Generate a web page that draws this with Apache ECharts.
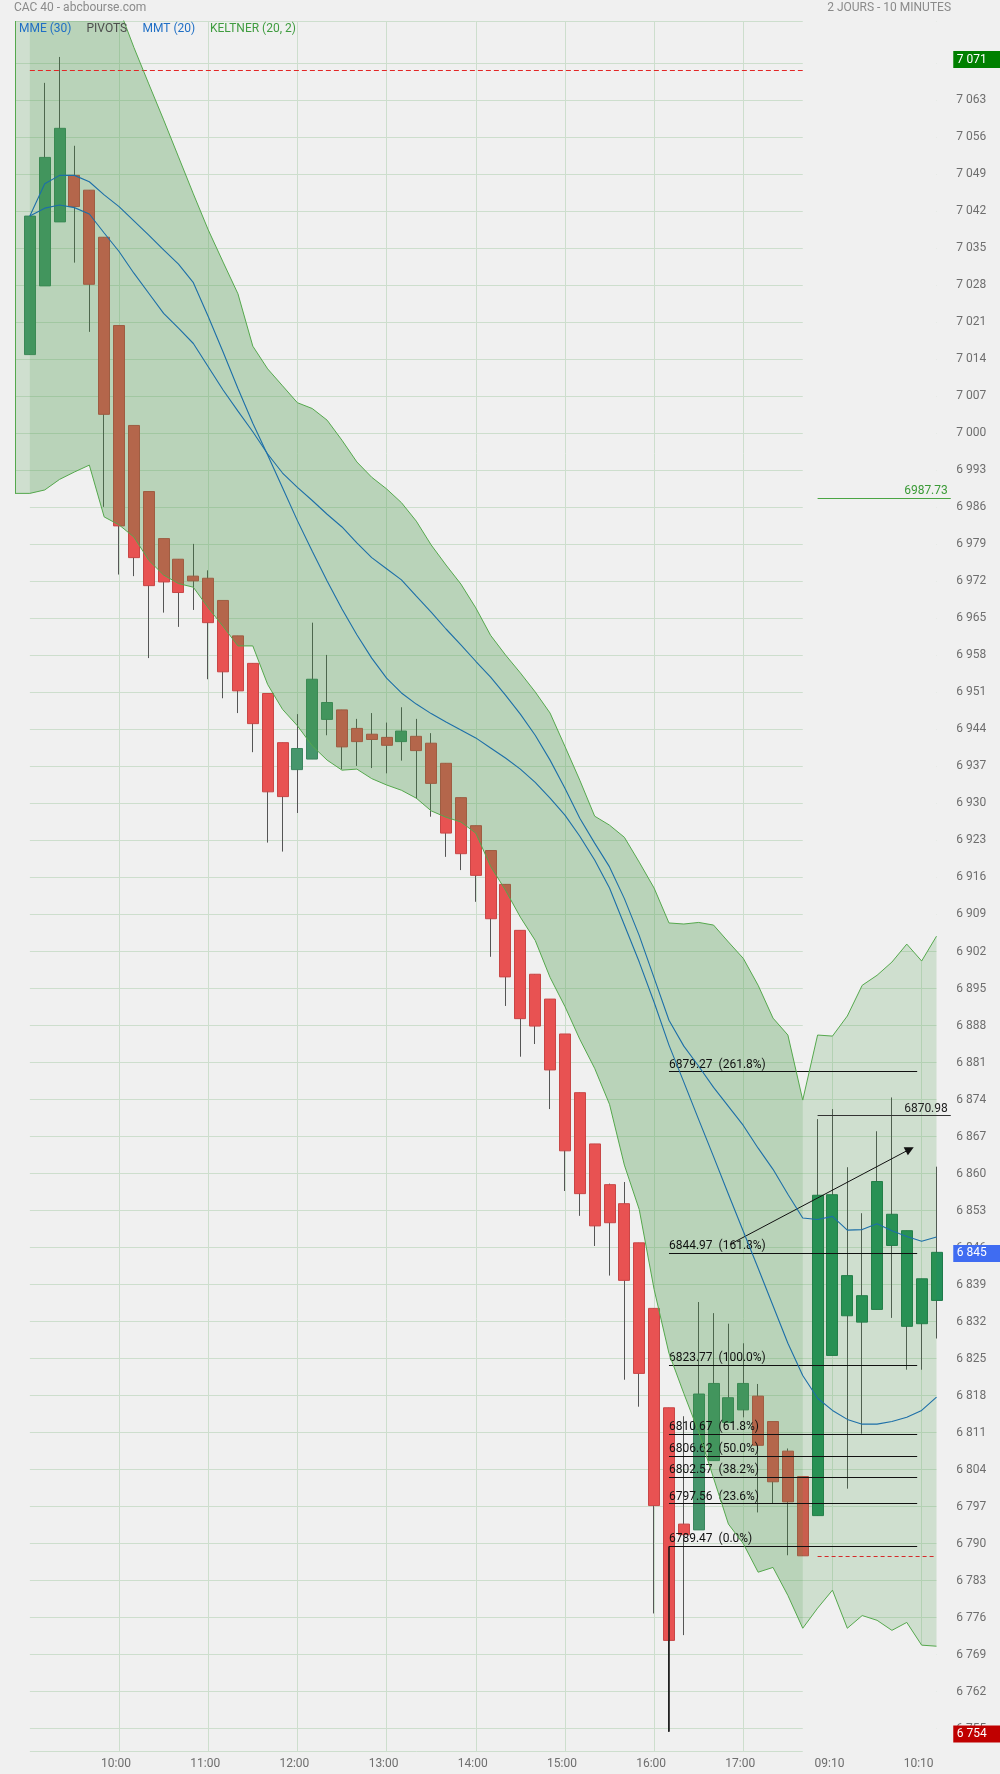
<!DOCTYPE html>
<html><head><meta charset="utf-8">
<script src="https://cdn.jsdelivr.net/npm/echarts@6/dist/echarts.min.js"></script>
<style>html,body{margin:0;padding:0;background:#f0f0f0;}#c{width:1000px;height:1774px;}</style>
</head><body><div id="c"></div>
<script>
// ---------------- DATA ----------------
const TIMES = ['08:50',
 '09:00','09:10','09:20','09:30','09:40','09:50',
 '10:00','10:10','10:20','10:30','10:40','10:50',
 '11:00','11:10','11:20','11:30','11:40','11:50',
 '12:00','12:10','12:20','12:30','12:40','12:50',
 '13:00','13:10','13:20','13:30','13:40','13:50',
 '14:00','14:10','14:20','14:30','14:40','14:50',
 '15:00','15:10','15:20','15:30','15:40','15:50',
 '16:00','16:10','16:20','16:30','16:40','16:50',
 '17:00','17:10','17:20','17:30','17:40',
 '09:00','09:10','09:20','09:30','09:40','09:50','10:00','10:10','10:20',''];
const X_LABEL_IDX = [7,13,19,25,31,37,43,49,55,61];
const DAY1 = [1, 53];
const DAY2 = [54, 62];

const OPEN = [null,7014.9,7027.9,7040.0,7048.8,7046.0,7037.1,7020.4,7001.5,6989.0,6980.1,
 6976.2,6973.0,6972.6,6968.4,6961.7,6956.5,6950.8,6941.5,6936.4,6938.4,
 6945.9,6947.7,6944.2,6943.1,6942.5,6941.7,6942.7,6941.4,6937.6,6931.1,
 6925.8,6921.1,6914.7,6906.0,6897.7,6893.0,6886.4,6875.3,6865.6,6857.9,
 6854.3,6846.9,6834.5,6815.7,6793.7,6792.6,6805.7,6812.9,6815.3,6817.9,
 6813.1,6807.5,6802.7,
 6795.3,6825.6,6840.7,6836.9,6834.3,6846.4,6849.2,6840.1,6836.0];
const CLOSE = [null,7041.1,7052.2,7057.7,7042.9,7028.2,7003.6,6982.5,6976.5,6971.2,6971.9,
 6969.9,6972.1,6964.2,6954.9,6951.3,6945.1,6932.2,6931.3,6940.4,6953.5,
 6949.1,6940.7,6941.7,6942.1,6941.0,6943.7,6940.0,6933.8,6924.4,6920.5,
 6916.4,6908.2,6897.2,6889.3,6887.9,6879.6,6864.3,6856.2,6850.1,6850.7,
 6839.8,6822.2,6797.2,6771.7,6791.7,6818.3,6820.3,6817.6,6820.3,6808.6,
 6801.7,6797.9,6787.7,
 6855.9,6856.0,6833.1,6831.9,6858.5,6852.3,6831.1,6831.6,6845.1];
const LOW = [null,7014.9,7027.9,7040.0,7032.3,7019.2,6986.1,6973.3,6973.0,6957.5,6966.1,
 6963.4,6966.6,6953.5,6949.9,6947.1,6939.7,6922.6,6920.9,6928.2,6938.4,
 6942.9,6936.5,6937.1,6936.7,6935.7,6938.1,6930.9,6927.5,6919.9,6917.4,
 6911.4,6901.0,6891.7,6882.1,6884.5,6872.2,6856.7,6852.0,6846.3,6840.7,
 6821.0,6815.9,6776.8,6754.4,6772.7,6792.6,6805.7,6812.9,6813.9,6795.9,
 6797.6,6787.8,6787.7,
 6795.3,6825.6,6800.4,6810.8,6834.3,6832.7,6822.9,6822.9,6828.8];
const HIGH = [null,7041.1,7066.3,7071.2,7054.4,7046.0,7037.1,7020.4,7001.5,6989.0,6980.1,
 6976.2,6979.1,6974.1,6968.4,6961.7,6956.5,6950.8,6941.5,6946.9,6964.2,
 6958.1,6947.7,6946.0,6947.1,6945.3,6948.2,6946.0,6943.3,6937.6,6931.1,
 6925.8,6921.1,6914.7,6906.0,6897.7,6893.0,6886.4,6875.3,6865.6,6858.1,
 6858.4,6846.9,6834.5,6815.7,6814.1,6835.7,6833.6,6831.6,6827.9,6820.2,
 6813.1,6808.0,6802.7,
 6870.3,6872.2,6861.2,6852.5,6868.0,6874.4,6849.2,6840.1,6861.3];

const MMT20 = [null,7041.1,7047.2,7048.8,7048.8,7047.6,7045.1,7042.9,7040.2,7037.5,7034.7,
 7032.0,7028.5,7022.1,7015.4,7008.5,7001.9,6995.9,6989.7,6983.5,6977.7,
 6972.1,6966.8,6961.9,6957.5,6953.7,6950.9,6948.8,6947.0,6945.4,6943.9,
 6942.4,6940.5,6938.6,6936.5,6934.0,6931.0,6927.8,6923.8,6919.3,6914.0,
 6907.0,6900.0,6892.4,6884.3,6877.3,6870.2,6863.2,6856.1,6849.1,6842.1,
 6835.0,6827.9,6821.8,
 6817.5,6815.2,6813.5,6812.6,6812.6,6813.1,6813.9,6815.2,6817.7];
const MME30 = [null,7041.1,7042.6,7043.2,7042.7,7041.5,7037.9,7034.4,7030.3,7026.5,7022.7,
 7019.9,7017.0,7012.6,7008.2,7004.2,7000.3,6996.1,6992.5,6989.8,6987.3,
 6984.7,6982.3,6979.3,6976.5,6974.4,6972.3,6969.2,6966.2,6963.0,6960.0,
 6956.9,6953.9,6950.5,6946.9,6942.9,6938.2,6932.9,6927.2,6922.5,6918.0,
 6912.0,6905.0,6897.0,6889.0,6884.1,6880.3,6876.3,6872.7,6869.1,6864.8,
 6860.8,6856.1,6851.6,
 6851.3,6851.9,6849.3,6849.4,6850.5,6849.2,6848.1,6847.2,6848.0];

const K_UPPER = [7112,7112,7110,7106,7100,7094,7087,7080.4,7073.0,7066.1,7059.3,
 7052.3,7045.3,7038.5,7032.4,7026.4,7016.5,7012.2,7009.0,7005.8,7004.7,
 7002.5,6998.7,6994.6,6991.7,6989.5,6986.9,6983.4,6978.9,6975.1,6971.5,
 6967.0,6961.8,6958.1,6954.7,6951.1,6947.1,6940.8,6934.4,6927.6,6925.9,
 6923.6,6918.9,6914.0,6907.4,6907.2,6907.5,6907.0,6903.8,6900.7,6895.6,
 6889.4,6886.2,6873.9,
 6886.2,6886.0,6889.8,6895.6,6897.5,6900.0,6903.4,6900.2,6904.9];
const K_LOWER = [6988.65,6988.65,6989.3,6991.3,6992.7,6994.0,6984.2,6982.7,6980.4,6976.0,6973.2,
 6971.6,6970.9,6967.0,6963.5,6959.8,6959.8,6952.5,6947.8,6944.7,6940.9,
 6938.2,6936.3,6936.5,6934.7,6933.5,6932.5,6931.0,6928.6,6927.4,6926.5,
 6924.4,6918.1,6913.6,6908.5,6904.1,6897.1,6891.6,6885.4,6879.9,6873.1,
 6861.6,6853.2,6838.1,6826.0,6818.4,6811.1,6802.4,6793.7,6790.0,6784.6,
 6785.5,6780.2,6774.0,
 6777.8,6781.2,6774.0,6776.4,6775.5,6773.6,6775.1,6770.8,6770.6];

const Y_MIN = 6750.78, Y_MAX = 7078.0;
const Y_TICKS = [6755,6762,6769,6776,6783,6790,6797,6804,6811,6818,6825,6832,6839,6846,6853,
 6860,6867,6874,6881,6888,6895,6902,6909,6916,6923,6930,6937,6944,6951,6958,6965,6972,
 6979,6986,6993,7000,7007,7014,7021,7028,7035,7042,7049,7056,7063,7070];

const PREV_CLOSE = 7068.7;
const DAY1_CLOSE = 6787.65;
const FIB_VALUES = [6879.27,6844.97,6823.77,6810.67,6806.62,6802.57,6797.56,6789.47];
const FIB_PCTS = ['261.8%','161.8%','100.0%','61.8%','50.0%','38.2%','23.6%','0.0%'];
const FIB_X = [44, 60.7];
const FIB_ANCHOR = [44, 6789.47, 6754.4];
const RESIST = 6870.98, PIVOT = 6987.73;
const LEVEL_X = [54, 62.96];
const ARROW = [[48.1, 6846.6], [60.2, 6864.6]];
const TAG_VALUES = [7070.7, 6844.9, 6754.0];
const TAG_TEXT = ['7 071', '6 845', '6 754'];
const TAG_COLORS = ['#008000', '#3f6cf2', '#c00000'];

// ---------------- STYLE ----------------
const BG = '#f0f0f0';
const GRID_C = '#cddecd';
const S = 14.863;
const FONT = 'Roboto';

const fmtY = v => { const s = String(Math.round(v)); return s.slice(0, s.length - 3) + ' ' + s.slice(-3); };
const idx = (a, from, to) => { const r = []; for (let i = from; i <= to; i++) r.push([i, a[i]]); return r; };

const isDay2 = i => i >= DAY2[0];
const UP1 = '#46966c', UP1B = '#3b855e', DN1 = '#e85252', DN1B = '#c84646';
const UP2 = '#24905a', UP2B = '#1e7a4b', DN2 = '#ea3a30', DN2B = '#c53028';

const wickData = [], bodyData = [];
for (let i = DAY1[0]; i <= DAY2[1]; i++) {
  wickData.push([i, OPEN[i], CLOSE[i], LOW[i], HIGH[i]]);
  const item = { value: [i, OPEN[i], CLOSE[i], Math.min(OPEN[i], CLOSE[i]), Math.max(OPEN[i], CLOSE[i])] };
  if (isDay2(i)) item.itemStyle = { color: UP2, color0: DN2, borderColor: UP2B, borderColor0: DN2B };
  bodyData.push(item);
}

// polygons drawn through the axis scales (api.coord)
function bandPolygon(api, from, to) {
  const pts = [];
  for (let i = from; i <= to; i++) pts.push(api.coord([i, K_UPPER[i]]));
  for (let i = to; i >= from; i--) pts.push(api.coord([i, K_LOWER[i]]));
  return pts;
}
function edgePolygon(api, arr, from, to, edge) {
  const pts = [api.coord([from, edge])];
  for (let i = from; i <= to; i++) pts.push(api.coord([i, arr[i]]));
  pts.push(api.coord([to, edge]));
  return pts;
}

const chart = echarts.init(document.getElementById('c'), null, { renderer: 'canvas' });

const annLines = [];
annLines.push([{ coord: [DAY1[0], Y_MIN], lineStyle: { color: GRID_C, width: 1, type: 'solid' } }, { coord: [DAY1[1], Y_MIN] }]);
annLines.push([{ coord: [DAY1[0], PREV_CLOSE], lineStyle: { color: '#e32626', width: 1, type: [5, 3] } }, { coord: [DAY1[1], PREV_CLOSE] }]);
annLines.push([{ coord: [DAY2[0], DAY1_CLOSE], lineStyle: { color: '#d42a2a', width: 1, type: [4, 3] } }, { coord: [DAY2[1], DAY1_CLOSE] }]);
FIB_VALUES.forEach((v, k) => {
  annLines.push([{ coord: [FIB_X[0], v], lineStyle: { color: '#111', width: 1, type: 'solid' },
    label: { show: true, position: 'insideStartTop', distance: [0, 1], formatter: v.toFixed(2) + '  (' + FIB_PCTS[k] + ')',
      color: '#111', fontSize: 12, fontFamily: FONT } },
    { coord: [FIB_X[1], v] }]);
});
annLines.push([{ coord: [FIB_ANCHOR[0], FIB_ANCHOR[1]], lineStyle: { color: '#111', width: 1.5, type: 'solid' } }, { coord: [FIB_ANCHOR[0], FIB_ANCHOR[2]] }]);
annLines.push([{ coord: [LEVEL_X[0], RESIST], lineStyle: { color: '#333', width: 1, type: 'solid' },
  label: { show: true, position: 'insideEndTop', distance: [3, 1], formatter: RESIST.toFixed(2), color: '#222', fontSize: 12, fontFamily: FONT } },
  { coord: [LEVEL_X[1], RESIST] }]);
annLines.push([{ coord: [LEVEL_X[0], PIVOT], lineStyle: { color: '#4aa544', width: 1, type: 'solid' },
  label: { show: true, position: 'insideEndTop', distance: [3, 1], formatter: PIVOT.toFixed(2), color: '#3a9a36', fontSize: 12, fontFamily: FONT } },
  { coord: [LEVEL_X[1], PIVOT] }]);
annLines.push([{ coord: ARROW[0], lineStyle: { color: '#111', width: 1, type: 'solid' } },
  { coord: ARROW[1], symbol: 'triangle', symbolSize: [9, 9] }]);

const tags = TAG_VALUES.map((v, k) => ({
  coord: [63, v], symbol: 'rect', symbolSize: [47, 17], symbolOffset: [25.4, 0],
  itemStyle: { color: TAG_COLORS[k] },
  label: { show: true, position: 'insideLeft', distance: 3.5, formatter: TAG_TEXT[k], color: '#fff', fontSize: 12, fontFamily: FONT }
}));

chart.setOption({
  animation: false,
  backgroundColor: BG,
  textStyle: { fontFamily: FONT },
  grid: [
    { left: 15, top: 21, width: 63 * S, height: 1730 },
    { left: 15, top: 21, width: 62 * S, height: 1730 }
  ],
  xAxis: [
    { gridIndex: 0, type: 'value', min: 0, max: 63, axisLine: { show: false }, axisTick: { show: false }, splitLine: { show: false },
      axisLabel: { customValues: X_LABEL_IDX, formatter: v => TIMES[v], color: '#6e6e6e', fontSize: 12, fontFamily: FONT, margin: 7, padding: [0, 6, 0, 0] } },
    { gridIndex: 1, type: 'value', min: 0, max: 62, axisLine: { show: false }, axisTick: { show: false, customValues: X_LABEL_IDX },
      axisLabel: { show: false }, splitLine: { show: true, lineStyle: { color: GRID_C, width: 1 } } }
  ],
  yAxis: [
    { gridIndex: 0, type: 'value', min: Y_MIN, max: Y_MAX, position: 'right', axisLine: { show: false }, axisTick: { show: false },
      splitLine: { show: false },
      axisLabel: { customValues: Y_TICKS, formatter: fmtY, color: '#6e6e6e', fontSize: 12, fontFamily: FONT, margin: 5, padding: [0, 0, 5, 0] } },
    { gridIndex: 1, type: 'value', min: Y_MIN, max: Y_MAX, axisLine: { show: false }, axisTick: { show: false, customValues: Y_TICKS.concat([Y_MAX]) },
      axisLabel: { show: false }, splitLine: { show: true, lineStyle: { color: GRID_C, width: 1 } } }
  ],
  graphic: [
    { type: 'text', left: 14, top: 2, z: 100, style: { text: 'CAC 40 - abcbourse.com', fill: '#8a8a8a', font: '12px Roboto' } },
    { type: 'text', right: 49, top: 2, z: 100, style: { text: '2 JOURS - 10 MINUTES', fill: '#8a8a8a', font: '12px Roboto' } },
    { type: 'text', left: 19, top: 23, z: 100, style: { text: 'MME (30)', fill: '#1f6fc5', font: '12px Roboto' } },
    { type: 'text', left: 86.5, top: 23, z: 100, style: { text: 'PIVOTS', fill: '#4d4d4d', font: '12px Roboto' } },
    { type: 'text', left: 142.5, top: 23, z: 100, style: { text: 'MMT (20)', fill: '#1f6fc5', font: '12px Roboto' } },
    { type: 'text', left: 210, top: 23, z: 100, style: { text: 'KELTNER (20, 2)', fill: '#3f9c3f', font: '12px Roboto' } }
  ],
  series: [
    // masks: hide grid lines outside the band in the padding columns
    { name: 'masks', type: 'custom', xAxisIndex: 0, yAxisIndex: 0, z: 1, silent: true, clip: true,
      data: [[0, Y_MIN]],
      renderItem: (params, api) => ({
        type: 'group',
        children: [
          { type: 'polygon', shape: { points: edgePolygon(api, K_LOWER, 0, DAY1[0], Y_MIN) }, style: { fill: BG } },
          { type: 'polygon', shape: { points: edgePolygon(api, K_LOWER, DAY1[1], DAY2[1], Y_MIN) }, style: { fill: BG } },
          { type: 'polygon', shape: { points: edgePolygon(api, K_UPPER, DAY1[1], DAY2[1], Y_MAX) }, style: { fill: BG } }
        ]
      }) },
    // candles
    { name: 'wicks', type: 'candlestick', xAxisIndex: 0, yAxisIndex: 0, z: 2, barWidth: 1, silent: true,
      itemStyle: { color: '#555', color0: '#555', borderColor: '#555', borderColor0: '#555', borderWidth: 1 }, data: wickData },
    { name: 'bodies', type: 'candlestick', xAxisIndex: 0, yAxisIndex: 0, z: 3, barWidth: 11.5, silent: true,
      itemStyle: { color: UP1, color0: DN1, borderColor: UP1B, borderColor0: DN1B, borderWidth: 1 }, data: bodyData },
    // Keltner band fills (light everywhere, extra shade on day 1)
    { name: 'kFill', type: 'custom', xAxisIndex: 0, yAxisIndex: 0, z: 4, silent: true, clip: true,
      data: [[0, Y_MIN]],
      renderItem: (params, api) => ({
        type: 'group',
        children: [
          { type: 'polygon', shape: { points: bandPolygon(api, 0, DAY2[1]) }, style: { fill: 'rgba(60,150,60,0.18)' } },
          { type: 'polygon', shape: { points: bandPolygon(api, DAY1[0], DAY1[1]) }, style: { fill: 'rgba(60,150,60,0.15)' } }
        ]
      }) },
    // Keltner strokes
    { name: 'kUpper', type: 'line', symbol: 'none', z: 5, silent: true, lineStyle: { color: '#55a84d', width: 1 }, data: idx(K_UPPER, 0, DAY2[1]) },
    { name: 'kLower', type: 'line', symbol: 'none', z: 5, silent: true, lineStyle: { color: '#55a84d', width: 1 }, data: idx(K_LOWER, 0, DAY2[1]),
      markLine: { silent: true, symbol: ['none', 'none'], label: { show: false }, lineStyle: { color: '#55a84d', width: 1, type: 'solid' },
        data: [[{ coord: [0, K_LOWER[0]] }, { coord: [0, Y_MAX] }]] } },
    // averages
    { name: 'MMT (20)', type: 'line', symbol: 'none', z: 5, silent: true, lineStyle: { color: '#1d6fa8', width: 1.1 }, data: idx(MMT20, DAY1[0], DAY2[1]) },
    { name: 'MME (30)', type: 'line', symbol: 'none', z: 5, silent: true, lineStyle: { color: '#1d6fa8', width: 1.1 }, data: idx(MME30, DAY1[0], DAY2[1]) },
    // annotations
    { name: 'annot', type: 'line', z: 6, clip: false, silent: true, data: [],
      markLine: { silent: true, symbol: ['none', 'none'], label: { show: false }, animation: false, data: annLines },
      markPoint: { silent: true, animation: false, data: tags } }
  ]
});
</script></body></html>
